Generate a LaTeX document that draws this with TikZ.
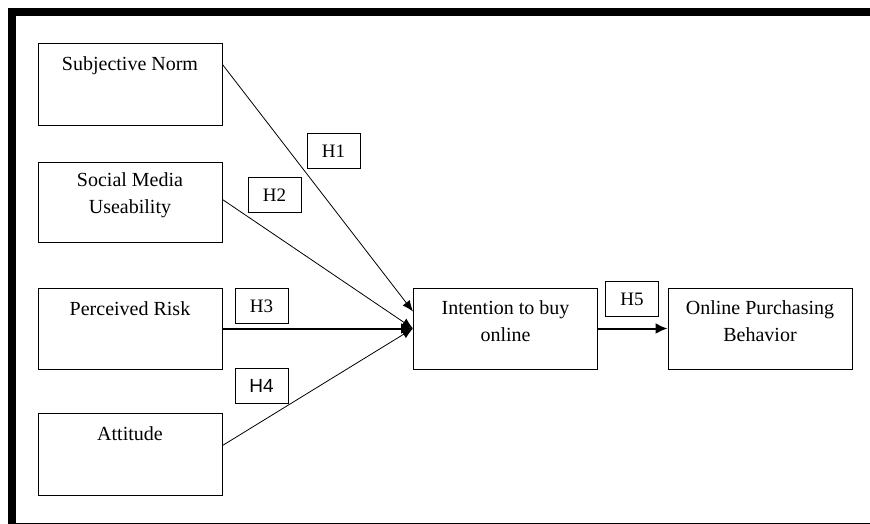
\documentclass[tikz,border=0pt]{standalone}
\usepackage{fontspec}
\setmainfont{Liberation Serif}
\newfontfamily\hsans{Liberation Sans}
\usetikzlibrary{arrows.meta,calc}
\begin{document}
\begin{tikzpicture}[x=1pt,y=-1pt,
  box/.style={draw,line width=1pt,minimum width=184pt,minimum height=82pt,inner sep=0pt},
  lbl/.style={anchor=base,align=center,inner sep=0pt,font=\fontsize{20}{27}\selectfont},
  hbox/.style={draw,line width=1pt,minimum width=53pt,minimum height=35pt,inner sep=0pt,font=\fontsize{19}{22}\selectfont},
  conn/.style={line width=0.8pt,-{Latex[length=11pt,width=9pt]}},
  thickconn/.style={line width=2pt,-{Latex[length=12pt,width=11pt]}},
  frame/.style={line width=8pt}]
\useasboundingbox (0,0) rectangle (870,523);
\begin{scope}
\clip (0,0) rectangle (870,523);
\draw[frame] (885,12) -- (12,12) -- (12,527) -- (885,527);
\end{scope}
% boxes
\node[box] (sn) at (130,84) {};
\node[box,minimum height=80pt] (smu) at (130,202) {};
\node[box,minimum height=81pt] (pr) at (130,328.5) {};
\node[box] (att) at (130,454) {};
\node[box,minimum height=81pt] (int) at (505.5,328.5) {};
\node[box,minimum height=81pt] (opb) at (760,328.5) {};
% texts (base = baseline of last line)
\node[lbl] (snt) at ($(sn.north)+(0,28)$) {Subjective Norm};
\node[lbl] (smut) at ($(smu.north)+(0,52)$) {Social Media\\Useability};
\node[lbl] (prt) at ($(pr.north)+(0,28)$) {Perceived Risk};
\node[lbl] (attt) at ($(att.north)+(0,28)$) {Attitude};
\node[lbl] (intt) at ($(int.north)+(0,54)$) {Intention to buy\\online};
\node[lbl] (opbt) at ($(opb.north)+(0,54)$) {Online Purchasing\\Behavior};
% hypothesis labels
\node[hbox] (h1) at (333.5,151) {H1};
\node[hbox] (h2) at (274.5,195) {H2};
\node[hbox] (h3) at (261.5,306) {H3};
\node[hbox,font=\hsans\fontsize{19}{22}\selectfont] (h4) at (261.5,386) {H4};
\node[hbox] (h5) at (632,299) {H5};
% connectors
\coordinate (snout) at ($(sn.north east)+(0,22)$);
\coordinate (smuout) at ($(smu.north east)+(0,38)$);
\coordinate (attout) at ($(att.north east)+(0,33)$);
\coordinate (intin1) at ($(int.north west)+(0,24)$);
\draw[conn] (snout) -- (intin1);
\draw[conn] (smuout) -- (int.west);
\draw[thickconn] (pr.east) -- (int.west);
\draw[conn] (attout) -- (int.west);
\draw[thickconn] (int.east) -- (opb.west);
\end{tikzpicture}
\end{document}
